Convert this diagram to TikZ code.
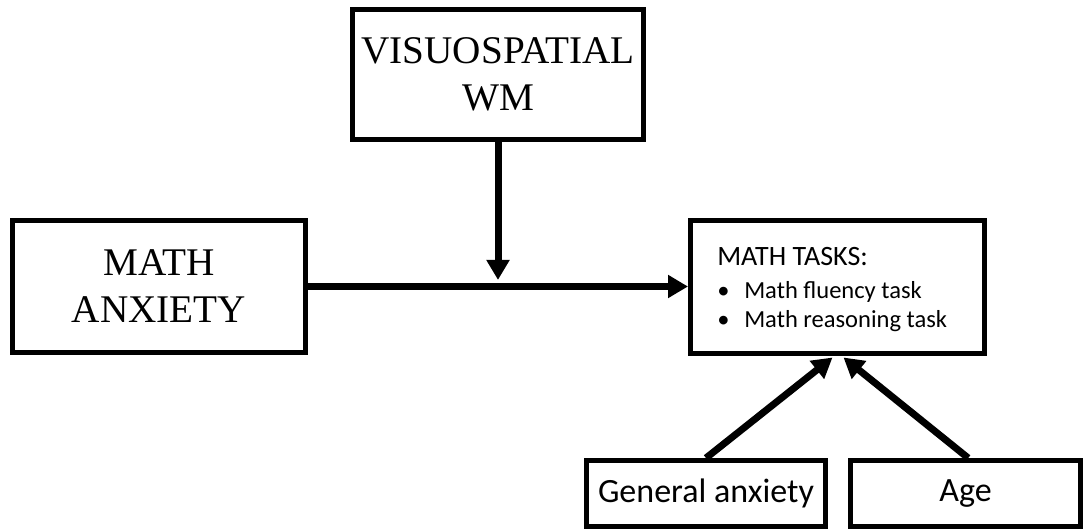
\documentclass[tikz,border=0pt]{standalone}
\usepackage{fontspec}
\setmainfont{Liberation Serif}
\newfontfamily\calfont{Carlito}
\usetikzlibrary{arrows.meta}
\begin{document}
\begin{tikzpicture}[x=0.75pt,y=-0.75pt,
  boxnode/.style={draw=black,line width=3.75pt,inner sep=0pt,anchor=center},
  serifbig/.style={font=\fontsize{29.4pt}{35.25pt}\selectfont,align=center},
  calbox/.style={font=\calfont\fontsize{25.5pt}{29pt}\selectfont},
  conn/.style={line width=5.25pt,-{Triangle[length=15pt,width=16.5pt]}}]
\useasboundingbox (0,0) rectangle (1083,529);
\node[boxnode,serifbig,minimum width=218.25pt,minimum height=97.5pt] (vs) at (498,74.5) {VISUOSPATIAL\\WM};
\node[boxnode,serifbig,minimum width=219.75pt,minimum height=99pt] (ma) at (159,286.5) {MATH\\ANXIETY};
\node[boxnode,minimum width=220.5pt,minimum height=99.75pt,font=\calfont\fontsize{18.4pt}{21.75pt}\selectfont] (mt) at (837.5,286.5)
  {\begin{tabular}{@{}l@{\hspace{8pt}}}
   \rule{0pt}{21.5pt}{\fontsize{21pt}{21.75pt}\selectfont MATH TASKS:}\\[3pt]
   \makebox[20.25pt][l]{•}Math fluency task\\
   \makebox[20.25pt][l]{•}Math reasoning task
   \end{tabular}};
\node[boxnode,calbox,minimum width=179.25pt,minimum height=49.5pt] (ga) at (706,493.5) {General anxiety};
\node[boxnode,calbox,minimum width=172.5pt,minimum height=49.5pt] (age) at (965.5,493.5) {Age};
\draw[conn] (ma.east) -- (mt.west);
\draw[conn] (vs.south) -- ([yshift=4.9pt]vs.south |- ma.east);
\draw[conn] (ga.north) -- ([xshift=-3.75pt,yshift=-1.5pt]mt.south);
\draw[conn] ([xshift=2pt]age.north) -- ([xshift=4.5pt,yshift=-1.5pt]mt.south);
\end{tikzpicture}
\end{document}
